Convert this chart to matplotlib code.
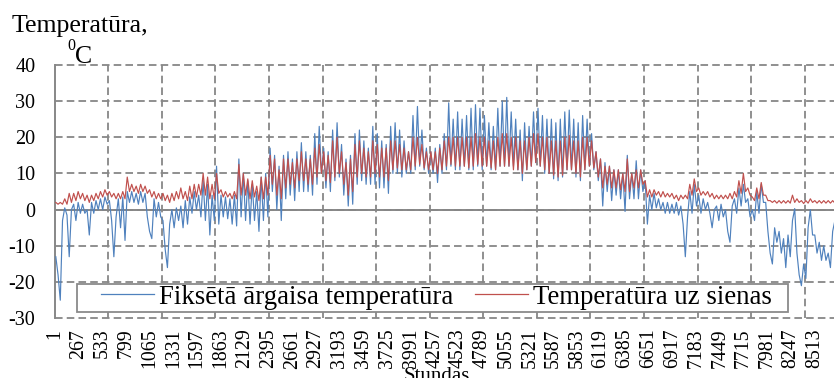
import numpy as np
import matplotlib
matplotlib.use("Agg")
import matplotlib.pyplot as plt
from matplotlib.lines import Line2D
from matplotlib.patches import Rectangle

plt.rcParams['font.family'] = ['Liberation Serif', 'DejaVu Serif']
plt.rcParams['axes.unicode_minus'] = False

# ---- data: readings per 50-hour block (first half, second half) ----
block_hours = 50
outdoor_first = [
    -13, -25, 0.5, -13, 1.5, 2, 1.5, 0, 2, 2.5, 3, 3.5,
    2.5, -13, 3, 3.5, 5, 5, 4.5, 5, 4.5, -6, 3, 2,
    -3, -16, 0, 0.5, 1, 2.5, 3.5, 5, 4, 8, 7, 4,
    12, 4, 3.5, 3, 4, 14, 10, 8, 7, 5, 9, 10,
    17, 15, 12, 15, 16, 14, 16, 18.5, 16, 15, 21, 23,
    17, 16, 22, 24, 18, 14, 15, 21, 22, 19, 17, 23,
    21, 19, 18, 23, 24, 22, 19, 16, 26, 28.5, 22, 17,
    16, 17, 18, 21, 29.5, 25, 27, 25, 26, 28, 29, 28,
    26, 24, 23, 28, 30, 31, 27, 25, 22, 24, 23, 27,
    28, 26, 25, 25, 24, 25, 27, 27.5, 25, 24, 26, 25,
    21, 16, 14, 13, 12, 11, 11, 10, 15, 10, 13.5, 11,
    8, 4, 4.5, 3, 2, 2, 1.5, 2, 1, -13, 5, 7,
    4, 3, 2, -5, 1, 1.5, 0, -9, 3, 6, 7, 3,
    0, 5, 7, 2, -12, -5, -6, -8, -7, -3, -12, -21,
    -19, 0, -7, -9, -10, -12, -6,
]
outdoor_second = [
    -18, -3, -1.5, 0, -3, -1, -1, -7, -1, 0, 0, 1.5,
    -3, -2, -5, -8.5, 2, 2, 1.5, 2, -2, -8, -2, -2,
    -11, -4, -5, -3, -5, -4, -1, 0, -2, -3, -7, -3,
    -4, -2, -2.5, -4, -4.5, -2, -3, -4, -3, -6, -3, -2,
    5, 0, -3, 3, 4, 2.5, 5, 5, 5, 4, 7, 10,
    6, 5, 8, 9, 4, 1, 1.5, 7, 8, 7, 7, 7,
    6, 6, 4.5, 10, 10, 9, 10, 10, 11, 12, 11, 10,
    10, 7.5, 10, 11, 12, 11, 11, 12, 11, 11, 12, 11,
    12, 11, 11, 12, 12, 12, 12, 11, 8, 11, 12, 13,
    12, 10, 10, 8.5, 8, 9, 11, 11, 9, 8, 11, 12,
    11, 8, 1, 5, 2.5, 4, 3, -0.5, 3, 3, 3, 5,
    -4, 0, 0.5, 0, -1, -1, -1, -1.5, -4, -2, -1, 1,
    -1, 0, -1, 0, -3, -2, -6, 1, -1, 1, 2, -2,
    -3, -1, 2, -6, -15, -9, -12, -16, -13, 0.3, -18, -15,
    -5, -7, -12, -14, -14, -16, -3,
]
wall_first = [
    2, 2, 3, 4.5, 4.5, 5, 4.5, 4, 4, 4.5, 5, 5.5,
    5, 4.5, 4.5, 5, 9, 7, 6.5, 7, 6.5, 5.5, 5, 4.5,
    4.5, 4, 4.5, 5, 6, 5, 6.5, 7, 7, 10, 9, 7,
    10, 5.5, 5, 4.5, 5, 12.5, 10, 8.5, 8, 6.5, 9, 9,
    15, 14, 11, 14, 14, 13, 14, 16, 14, 14, 17, 18,
    16, 15, 19, 20, 16, 13, 14, 18, 19, 17, 16, 19,
    18, 17, 17, 19, 19, 18, 17, 16, 20, 20, 18, 16,
    16, 16, 17, 19, 20, 20, 20, 20, 20, 20, 21, 20,
    20, 19, 19, 20, 21, 21, 20, 20, 19, 19, 20, 21,
    21, 20, 20, 19, 19, 19, 20, 20.5, 19, 19, 20, 20,
    19, 16, 14, 12, 12, 11, 11, 10, 14, 10, 11, 11,
    8, 5.5, 5.5, 5, 5, 4.5, 4.5, 4, 4, 4, 7, 8.5,
    6, 5, 5, 4.5, 4, 4, 4, 4.5, 5, 8, 10, 6,
    3.5, 6, 7.5, 4, 2.5, 2.5, 2.5, 2.5, 2.5, 4, 3, 2.5,
    2.5, 3, 2.5, 2.5, 2.5, 2.5, 2.5,
]
wall_second = [
    1.5, 1.5, 1.5, 2, 2.5, 3, 2.5, 2, 2.5, 3, 3.5, 4,
    3.5, 3, 3, 3, 5, 5, 4.5, 5, 4.5, 3.5, 3, 3,
    2.5, 2, 2.5, 3, 3, 2.5, 3, 3.5, 4, 4, 3, 3,
    4.5, 3.5, 3.5, 3, 3, 4, 4, 3, 3.5, 2.5, 3, 4,
    7, 4, 3, 6, 7, 6, 8, 8, 7, 7, 9, 10,
    8, 7.5, 9, 10, 7, 4, 5, 9, 10, 9, 9, 10,
    9, 9, 8, 11, 11.5, 11, 11, 11, 12, 12.5, 11.5, 11,
    11, 10, 11, 12, 12.5, 12, 12, 12, 11.5, 12, 12.5, 12,
    12, 11.5, 11, 12, 12, 12, 11, 11, 10, 11, 12, 13,
    12, 11, 10, 9.5, 9, 9.5, 11, 11, 10, 9, 11, 12,
    11.5, 9, 6, 7, 6, 6, 5.5, 5, 5, 6, 6, 7,
    3.5, 3.5, 4, 3.5, 3.5, 3.5, 3, 2.5, 3, 3, 4, 5,
    4, 4, 3.5, 3, 3, 3, 3, 3, 3.5, 4.5, 5, 4,
    2.5, 3, 4, 2.5, 2, 1.8, 1.8, 1.8, 1.8, 2, 2, 1.7,
    1.8, 2, 1.8, 1.8, 1.8, 1.8, 1.8,
]
series_labels = ["Fiksētā ārgaisa temperatūra", "Temperatūra uz sienas"]
x_tick_labels = [str(1 + 266 * i) for i in range(33)]
y_ticks = [-30, -20, -10, 0, 10, 20, 30, 40]
n_hours = 8760

# ---- build the series from the block readings ----
starts = np.arange(len(outdoor_first)) * block_hours
xs = np.column_stack([starts + 13, starts + 38]).ravel()
outdoor = np.column_stack([outdoor_first, outdoor_second]).ravel()
wall = np.column_stack([wall_first, wall_second]).ravel()

W, H = 834, 378
fig = plt.figure(figsize=(W / 100, H / 100), dpi=100)
left_px, right_px, top_px, bot_px = 54.7, 836.9, 64.8, 318.3
ax = fig.add_axes([left_px / W, 1 - bot_px / H, (right_px - left_px) / W, (bot_px - top_px) / H])

blue = '#4F81BD'
red = '#C0504D'
gray = '#878787'

ax.plot(xs, outdoor, color=blue, lw=0.85, zorder=3)
ax.plot(xs, wall, color=red, lw=0.85, zorder=3.1)

ax.set_xlim(0.5, n_hours + 0.5)
ax.set_ylim(-30, 40)

ax.set_xticks([1 + 266 * i for i in range(33)])
ax.set_xticklabels(x_tick_labels, rotation=90, fontsize=14.3)
ax.set_xticks(np.arange(600, n_hours, 600), minor=True)
ax.set_yticks(y_ticks)
ax.set_yticklabels([str(v) for v in y_ticks], fontsize=14.5)
ax.tick_params(axis='both', which='both', length=0)
ax.tick_params(axis='y', pad=14)
ax.tick_params(axis='x', pad=7.5)

dash = (0, (4.2, 2.3))
ax.grid(True, which='minor', axis='x', color=gray, lw=1.3, linestyle=dash, zorder=1)
ax.grid(True, which='major', axis='y', color=gray, lw=1.3, linestyle=dash, zorder=1)
ax.grid(False, which='major', axis='x')
for t in ax.yaxis.get_major_ticks():
    t.gridline.set_clip_on(False)
ax.set_axisbelow(True)

for s in ['top', 'right', 'bottom']:
    ax.spines[s].set_visible(False)
ax.spines['left'].set_color(gray)
ax.spines['left'].set_linewidth(1.4)
ax.axhline(0, color=gray, lw=1.4, zorder=2)

# legend (frame drawn separately to match the tight box)
handles = [Line2D([], [], color=blue, lw=0.9), Line2D([], [], color=red, lw=0.9)]
leg = ax.legend(handles, series_labels, ncol=2, loc='center left',
                bbox_to_anchor=(101 / W, 1 - 297 / H), bbox_transform=fig.transFigure,
                frameon=False, borderpad=0, borderaxespad=0, handlelength=1.98,
                handletextpad=0.19, columnspacing=0.8, fontsize=19.3)
leg.set_zorder(6)
rect = Rectangle((77 / W, 1 - 312 / H), (788 - 77) / W, (312 - 284) / H,
                 transform=fig.transFigure, facecolor='white', edgecolor='#8a8a8a',
                 lw=1.3, zorder=5, clip_on=False)
ax.add_artist(rect)

# titles
fig.text(80 / W, 1 - 31.7 / H, "Temperatūra,", ha='center', va='baseline', fontsize=18.5)
fig.text(75 / W, 1 - 63.3 / H, "C", ha='left', va='baseline', fontsize=18.5)
fig.text(75 / W, 1 - 50 / H, "0", ha='right', va='baseline', fontsize=11.5)
fig.text(437 / W, 1 - 381 / H, "Stundas", ha='center', va='baseline', fontsize=15)

fig.savefig('out.png', dpi=100)
